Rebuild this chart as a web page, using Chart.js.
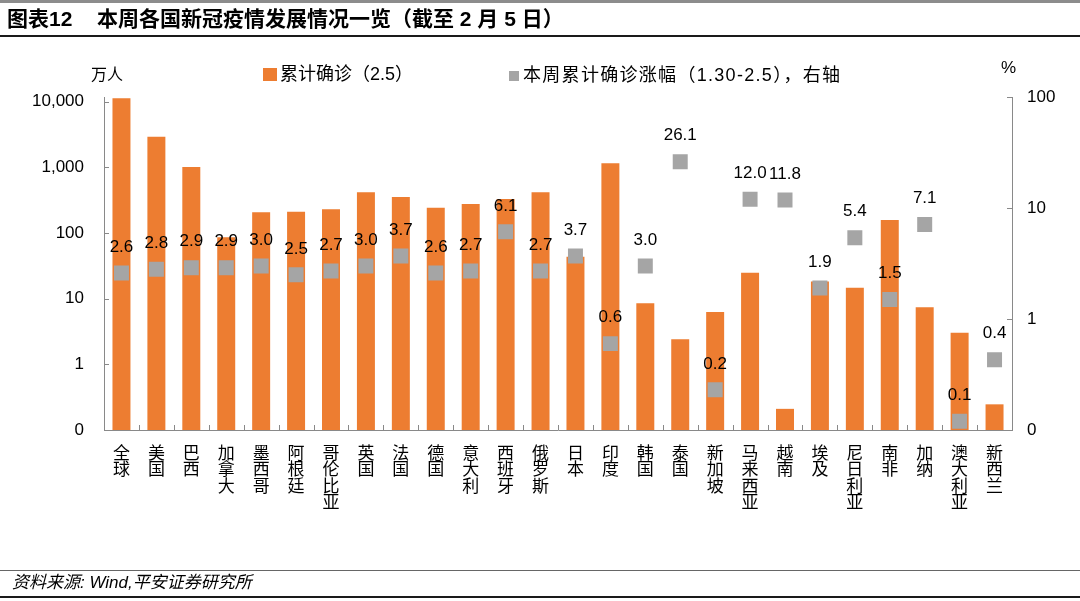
<!DOCTYPE html>
<html><head><meta charset="utf-8">
<script src="https://cdn.jsdelivr.net/npm/chart.js@4.4.1/dist/chart.umd.min.js"></script>
<style>
html,body{margin:0;padding:0;background:#fff;width:1080px;height:601px;overflow:hidden;}
#wrap{position:absolute;left:0;top:0;width:1080px;height:601px;}
canvas{position:absolute;left:0;top:0;}
.topline{position:absolute;left:0;top:0;width:1080px;height:3px;background:#8c8c8c;}
.title{position:absolute;top:6px;font-weight:bold;font-size:21px;font-family:"Liberation Sans","Noto Sans CJK SC",sans-serif;color:#000;white-space:nowrap;line-height:25px;}
.uline{position:absolute;left:0;top:35px;width:1080px;height:2px;background:#1a1a1a;}
.fline1{position:absolute;left:0;top:570px;width:1080px;height:1px;background:#666;}
.src{position:absolute;left:12px;top:572px;font-style:italic;font-size:17px;font-family:"Liberation Sans","Noto Sans CJK SC",sans-serif;color:#000;white-space:nowrap;line-height:21px;}
.fline2{position:absolute;left:0;top:596px;width:1080px;height:2px;background:#1a1a1a;}
</style></head>
<body>
<div id="wrap">
<canvas id="c" width="1080" height="601"></canvas>
<div class="topline"></div>
<div class="title" style="left:7px;">图表12</div>
<div class="title" style="left:97px;">本周各国新冠疫情发展情况一览（截至 2 月 5 日）</div>
<div class="uline"></div>
<div class="fline1"></div>
<div class="src">资料来源: Wind,平安证券研究所</div>
<div class="fline2"></div>
</div>
<script>
const categories = ['全球','美国','巴西','加拿大','墨西哥','阿根廷','哥伦比亚','英国','法国','德国','意大利','西班牙','俄罗斯','日本','印度','韩国','泰国','新加坡','马来西亚','越南','埃及','尼日利亚','南非','加纳','澳大利亚','新西兰'];
// 累计确诊（万人）
const cumulativeCases = [11300, 2930, 1010, 86, 207, 211, 230, 417, 354, 243, 277, 330, 417, 43.6, 1153, 8.5, 2.41, 6.27, 24.9, 0.21, 18.3, 14.7, 158, 7.39, 3.03, 0.246];
// 本周累计确诊涨幅（%）
const weeklyGrowth = [2.6, 2.8, 2.9, 2.9, 3.0, 2.5, 2.7, 3.0, 3.7, 2.6, 2.7, 6.1, 2.7, 3.7, 0.6, 3.0, 26.1, 0.23, 12.0, 11.8, 1.9, 5.4, 1.5, 7.1, 0.12, 0.43];
const leftTicks = [0.1, 1, 10, 100, 1000, 10000];
const rightTicks = [0.1, 1, 10, 100];
const seriesNames = ['累计确诊（2.5）', '本周累计确诊涨幅（1.30-2.5），右轴'];

const LATIN = '"Liberation Sans", Arial, sans-serif';
const MIXED = '"Liberation Sans", "Noto Sans CJK SC", sans-serif';
const CJK = '"Noto Sans CJK SC", sans-serif';
const AXIS = '#898989';

const decor = {
  id: 'decor',
  afterDraw(chart) {
    const {ctx, chartArea: a, scales} = chart;
    ctx.save();
    // inside tick marks
    ctx.strokeStyle = AXIS; ctx.lineWidth = 1;
    ctx.beginPath();
    leftTicks.forEach(v => { const y = Math.round(scales.y.getPixelForValue(v)) + 0.5; ctx.moveTo(a.left, y); ctx.lineTo(a.left + 5, y); });
    rightTicks.forEach(v => { const y = Math.round(scales.y1.getPixelForValue(v)) + 0.5; ctx.moveTo(a.right, y); ctx.lineTo(a.right - 5, y); });
    const xs = scales.x;
    const step = xs.getPixelForValue(1) - xs.getPixelForValue(0);
    for (let i = 0; i <= categories.length; i++) {
      const x = Math.round(xs.getPixelForValue(0) - step / 2 + step * i) + 0.5;
      ctx.moveTo(x, a.bottom); ctx.lineTo(x, a.bottom - 5);
    }
    ctx.stroke();
    // data labels for growth series
    const meta = chart.getDatasetMeta(1);
    ctx.fillStyle = '#000';
    ctx.font = '17px ' + LATIN;
    ctx.textAlign = 'center'; ctx.textBaseline = 'middle';
    meta.data.forEach((p, i) => { ctx.fillText(weeklyGrowth[i].toFixed(1), p.x, p.y - 26); });
    // legend
    ctx.textAlign = 'left';
    ctx.fillStyle = chart.data.datasets[0].backgroundColor;
    ctx.fillRect(263, 68, 14, 13);
    ctx.fillStyle = '#000';
    ctx.font = '18px ' + MIXED;
    ctx.fillText(seriesNames[0], 280, 75);
    ctx.fillStyle = chart.data.datasets[1].pointBackgroundColor;
    ctx.fillRect(509, 71, 10, 10);
    ctx.fillStyle = '#000';
    ctx.letterSpacing = '1.3px';
    ctx.fillText(seriesNames[1], 523, 76);
    ctx.letterSpacing = '0px';
    // units
    ctx.font = '16px ' + CJK;
    ctx.fillText('万人', 91, 74);
    ctx.font = '17px ' + LATIN;
    ctx.fillText('%', 1001, 68);
    ctx.restore();
  }
};

new Chart(document.getElementById('c'), {
  data: {
    labels: categories.map(c => Array.from(c)),
    datasets: [
      { type: 'bar', label: seriesNames[0], data: cumulativeCases, backgroundColor: '#ED7D31', yAxisID: 'y', order: 2, barPercentage: 0.515, categoryPercentage: 1 },
      { type: 'line', label: seriesNames[1], data: weeklyGrowth, yAxisID: 'y1', order: 1, showLine: false, pointStyle: 'rect', pointRadius: 10.6, pointHoverRadius: 10.6, pointBackgroundColor: '#A5A5A5', pointBorderWidth: 0, borderColor: '#A5A5A5' }
    ]
  },
  options: {
    responsive: false, animation: false, devicePixelRatio: 1,
    layout: { padding: { top: 97, left: 0, right: 0, bottom: 0 } },
    plugins: { legend: { display: false }, tooltip: { enabled: false } },
    scales: {
      x: {
        type: 'category', offset: true,
        grid: { display: true, drawOnChartArea: false, drawTicks: false },
        border: { display: true, color: AXIS, width: 1 },
        ticks: { autoSkip: false, maxRotation: 0, minRotation: 0, padding: 14, color: '#000', font: { family: CJK, size: 17, lineHeight: 0.97 } },
        afterFit(s) { s.height = 171; }
      },
      y: {
        type: 'logarithmic', position: 'left', min: 0.1, max: 11800,
        afterBuildTicks(s) { s.ticks = leftTicks.map(v => ({ value: v })); },
        grid: { display: true, drawOnChartArea: false, drawTicks: false },
        border: { display: true, color: AXIS, width: 1 },
        ticks: { padding: 20, color: '#000', font: { family: LATIN, size: 17 }, callback: v => v < 1 ? '0' : Number(v).toLocaleString('en-US') },
        afterFit(s) { s.width = 104; }
      },
      y1: {
        type: 'logarithmic', position: 'right', min: 0.1, max: 100,
        afterBuildTicks(s) { s.ticks = rightTicks.map(v => ({ value: v })); },
        grid: { display: true, drawOnChartArea: false, drawTicks: false },
        border: { display: true, color: AXIS, width: 1 },
        ticks: { padding: 15, color: '#000', font: { family: LATIN, size: 17 }, callback: v => v < 1 ? '0' : Number(v).toLocaleString('en-US') },
        afterFit(s) { s.width = 68; }
      }
    }
  },
  plugins: [decor]
});
</script>
</body></html>
